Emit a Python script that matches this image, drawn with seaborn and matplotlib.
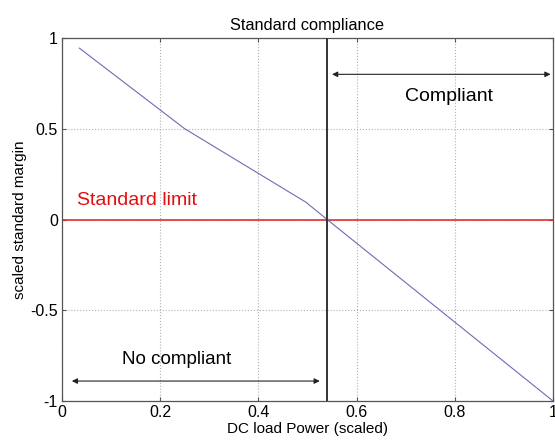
import matplotlib
matplotlib.use("Agg")
import matplotlib.pyplot as plt
import seaborn as sns
import pandas as pd

# Scaled DC load power vs. scaled standard margin
power = [0.035, 0.25, 0.497, 0.54, 1.0]
margin = [0.945, 0.50, 0.095, 0.0, -1.0]
limit_power = 0.54
standard_limit = 0.0

sns.set_theme(style="white")
plt.rcParams["font.family"] = ["Liberation Sans", "DejaVu Sans"]
plt.rcParams["text.color"] = "black"
plt.rcParams["axes.labelcolor"] = "black"

fig = plt.figure(figsize=(5.55, 4.4), dpi=100)
ax = fig.add_axes([0.1117, 0.0886, 0.8847, 0.825])

df = pd.DataFrame({"power": power, "margin": margin})
sns.lineplot(data=df, x="power", y="margin", ax=ax, color="#6c6cb8",
             linewidth=0.8, zorder=3)

ax.axhline(standard_limit, color="#e02020", linewidth=1.1, zorder=2)
ax.axvline(limit_power, color="#333333", linewidth=1.4, zorder=4)

ax.set_xlim(0, 1)
ax.set_ylim(-1, 1)
ax.set_xticks([0, 0.2, 0.4, 0.6, 0.8, 1])
ax.set_xticklabels(["0", "0.2", "0.4", "0.6", "0.8", "1"])
ax.set_yticks([-1, -0.5, 0, 0.5, 1])
ax.set_yticklabels(["-1", "-0.5", "0", "0.5", "1"])
ax.grid(True, color="#b0b0b0", linestyle=":", linewidth=0.8)
ax.tick_params(axis="both", labelsize=11.5, colors="#555555", labelcolor="black",
               direction="in", length=3, width=0.8, pad=3,
               top=True, right=True, bottom=True, left=True)
for s in ax.spines.values():
    s.set_color("#555555")
    s.set_linewidth(0.9)

ax.set_title("Standard compliance", fontsize=11.8, pad=6)
ax.set_xlabel("DC load Power (scaled)", fontsize=11, labelpad=1)
ax.set_ylabel("scaled standard margin", fontsize=11, labelpad=2)

ax.annotate("", xy=(0.995, 0.80), xytext=(0.55, 0.80),
            arrowprops=dict(arrowstyle="<|-|>", color="#222222", lw=0.8,
                            mutation_scale=8, shrinkA=0, shrinkB=0))
ax.text(0.788, 0.68, "Compliant", fontsize=14, ha="center", va="center")

ax.annotate("", xy=(0.525, -0.89), xytext=(0.02, -0.89),
            arrowprops=dict(arrowstyle="<|-|>", color="#222222", lw=0.8,
                            mutation_scale=8, shrinkA=0, shrinkB=0))
ax.text(0.233, -0.77, "No compliant", fontsize=13.5, ha="center", va="center")

ax.text(0.03, 0.105, "Standard limit", fontsize=14, color="#e01010",
        ha="left", va="center")

fig.savefig("out.png", dpi=100)
